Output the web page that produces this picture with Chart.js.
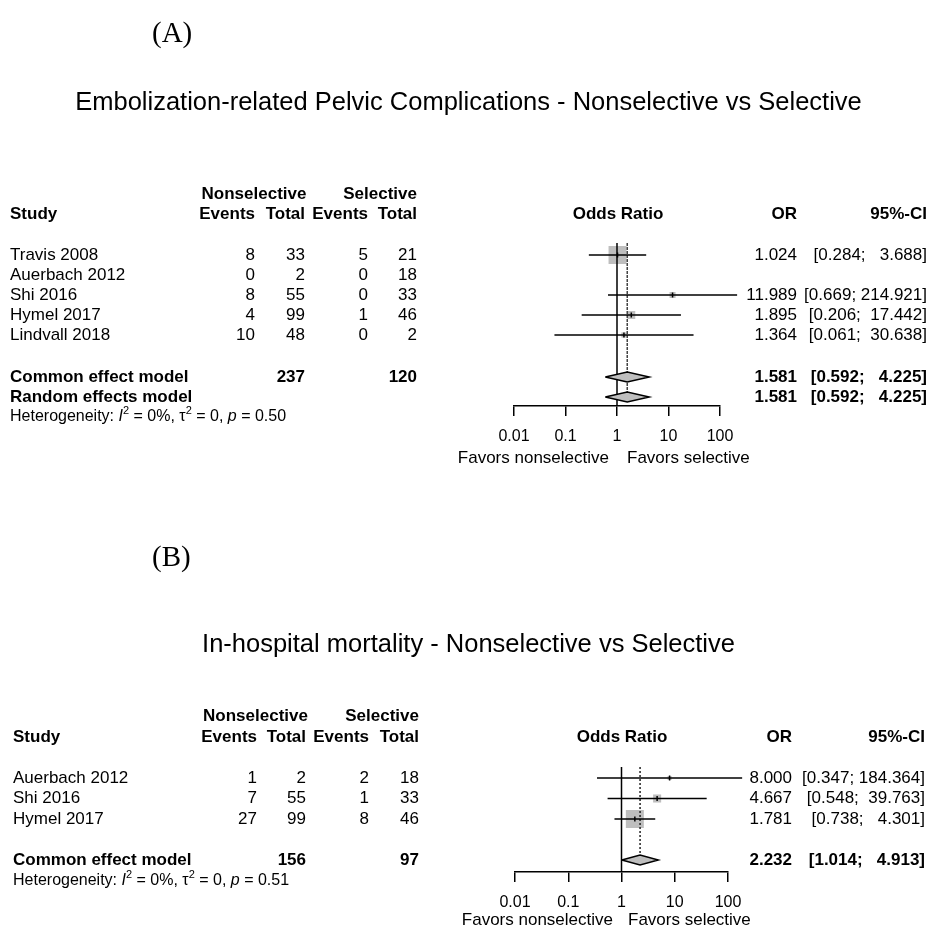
<!DOCTYPE html>
<html>
<head>
<meta charset="utf-8">
<script src="https://cdn.jsdelivr.net/npm/chart.js@4.4.0/dist/chart.umd.min.js"></script>
<style>
  body { margin: 0; background: #fff; }
  canvas { position: absolute; left: 0; }
</style>
</head>
<body>
<canvas id="panel-a" width="929" height="465" style="top:0"></canvas>
<canvas id="panel-b" width="929" height="464" style="top:465px"></canvas>
<script>
// (A) pelvic complications
const studiesA = ["Travis 2008", "Auerbach 2012", "Shi 2016", "Hymel 2017", "Lindvall 2018"];
const nsEventsA = [8, 0, 8, 4, 10];
const nsTotalA = [33, 2, 55, 99, 48];
const selEventsA = [5, 0, 0, 1, 0];
const selTotalA = [21, 18, 33, 46, 2];
const orA = [1.024, null, 11.989, 1.895, 1.364];
const lowerA = [0.284, null, 0.669, 0.206, 0.061];
const upperA = [3.688, null, 214.921, 17.442, 30.638];
const weightA = [72, 0, 8, 14, 6];
const summaryNamesA = ["Common effect model", "Random effects model"];
const summaryOrA = [1.581, 1.581];
const summaryLowerA = [0.592, 0.592];
const summaryUpperA = [4.225, 4.225];
const totalsA = [237, 120];
const hetA = ["0%", "0", "0.50"];

// (B) in-hospital mortality
const studiesB = ["Auerbach 2012", "Shi 2016", "Hymel 2017"];
const nsEventsB = [1, 7, 27];
const nsTotalB = [2, 55, 99];
const selEventsB = [2, 1, 8];
const selTotalB = [18, 33, 46];
const orB = [8.000, 4.667, 1.781];
const lowerB = [0.347, 0.548, 0.738];
const upperB = [184.364, 39.763, 4.301];
const weightB = [4, 16, 80];
const summaryNamesB = ["Common effect model"];
const summaryOrB = [2.232];
const summaryLowerB = [1.014];
const summaryUpperB = [4.913];
const totalsB = [156, 97];
const hetB = ["0%", "0", "0.51"];

const xTicks = [0.01, 0.1, 1, 10, 100];

const W = 929;
const AXIS_H = 40;
const MAX_SIDE = 18;
const LW = 1.5;
const SANS = '"Liberation Sans", Arial, sans-serif';
const SERIF = '"Liberation Serif", "Times New Roman", serif';

// layout, page coordinates
const layoutA = {
  top: 0, height: 465,
  areaLeft: 514, areaRight: 720, areaTop: 243, areaBottom: 406,
  row0: 255, rowH: 20, summaryRows: [6.1, 7.1], hetRow: 8.1,
  tag: "(A)", tagX: 152, tagY: 34,
  title: "Embolization-related Pelvic Complications - Nonselective vs Selective", titleY: 103,
  hdr1Y: 194, hdr2Y: 214,
  cStudy: 10, cE1: 255, cT1: 305, cE2: 368, cT2: 417, cPlot: 618, cOR: 797, cCI: 927,
  favorsY: 458, favorsL: 609, favorsR: 627, dash: [3, 1], refColor: "#444"
};
const layoutB = {
  top: 465, height: 464,
  areaLeft: 515, areaRight: 728, areaTop: 767, areaBottom: 872,
  row0: 778, rowH: 20.5, summaryRows: [4], hetRow: 5,
  tag: "(B)", tagX: 152, tagY: 558,
  title: "In-hospital mortality - Nonselective vs Selective", titleY: 645,
  hdr1Y: 716, hdr2Y: 737,
  cStudy: 13, cE1: 257, cT1: 306, cE2: 369, cT2: 419, cPlot: 622, cOR: 792, cCI: 925,
  favorsY: 920, favorsL: 613, favorsR: 628, dash: [2, 2], refColor: "#222"
};

function fmtCI(lo, hi) {
  return "[" + lo.toFixed(3) + "; " + hi.toFixed(3).padStart(7) + "]";
}

function put(ctx, s, x, y, align, font) {
  ctx.font = font;
  ctx.textAlign = align;
  ctx.textBaseline = "middle";
  ctx.fillStyle = "#000";
  ctx.fillText(s, x, y);
}

function buildPanel(id, P, D) {
  const yMin = (P.areaTop - P.row0) / P.rowH;
  const yMax = (P.areaBottom - P.row0) / P.rowH;
  const dh = 5 / P.rowH;
  const maxW = Math.max(...D.weight);
  const datasets = [];

  // squares
  const sq = [], sqR = [], est = [];
  D.or.forEach((v, i) => {
    if (v == null) return;
    sq.push({ x: v, y: i });
    sqR.push((MAX_SIDE * Math.sqrt(D.weight[i] / maxW)) / 2 / Math.SQRT1_2);
    est.push({ x: v, y: i });
  });
  datasets.push({
    type: "scatter", data: sq, order: 3, pointStyle: "rect",
    pointRadius: sqR, backgroundColor: "#bebebe", borderWidth: 0, clip: false
  });

  // confidence intervals
  D.or.forEach((v, i) => {
    if (v == null) return;
    datasets.push({
      type: "line", data: [{ x: D.lower[i], y: i }, { x: D.upper[i], y: i }],
      order: 2, borderColor: "#000", borderWidth: LW, pointRadius: 0, clip: false
    });
  });
  datasets.push({
    type: "scatter", data: est, order: 1, pointStyle: "line", rotation: 90,
    pointRadius: 2.5, borderColor: "#000", borderWidth: LW, clip: false
  });

  // reference lines
  datasets.push({
    type: "line", data: [{ x: 1, y: yMin }, { x: 1, y: yMax }],
    order: 2, borderColor: "#000", borderWidth: LW, pointRadius: 0, clip: false
  });
  const lastSum = P.summaryRows[P.summaryRows.length - 1];
  datasets.push({
    type: "line", data: [{ x: D.sumOr[0], y: yMin }, { x: D.sumOr[0], y: lastSum }],
    order: 2, borderColor: P.refColor, borderWidth: LW, borderDash: P.dash, pointRadius: 0, clip: false
  });

  // diamonds
  D.sumOr.forEach((v, k) => {
    const r = P.summaryRows[k];
    datasets.push({
      type: "line", order: 0,
      data: [
        { x: D.sumLower[k], y: r }, { x: v, y: r - dh },
        { x: D.sumUpper[k], y: r }, { x: v, y: r + dh }, { x: D.sumLower[k], y: r }
      ],
      fill: "shape", backgroundColor: "#bebebe", borderColor: "#000",
      borderWidth: LW, pointRadius: 0, tension: 0, clip: false
    });
  });

  const tablePlugin = {
    id: "table" + id,
    afterDraw(chart) {
      const ctx = chart.ctx;
      const ys = chart.scales.y;
      const ry = (r) => ys.getPixelForValue(r);
      const t = P.top;
      const f = (px, w) => (w || "") + " " + px + "px " + SANS;
      ctx.save();
      put(ctx, P.tag, P.tagX, P.tagY - t, "left", "29px " + SERIF);
      put(ctx, P.title, W / 2 + 4, P.titleY - t, "center", f(25.5));

      const hb = f(17, "bold");
      put(ctx, "Nonselective", (P.cE1 - 52 + P.cT1) / 2, P.hdr1Y - t, "center", hb);
      put(ctx, "Selective", P.cT2, P.hdr1Y - t, "right", hb);
      put(ctx, "Study", P.cStudy, P.hdr2Y - t, "left", hb);
      put(ctx, "Events", P.cE1, P.hdr2Y - t, "right", hb);
      put(ctx, "Total", P.cT1, P.hdr2Y - t, "right", hb);
      put(ctx, "Events", P.cE2, P.hdr2Y - t, "right", hb);
      put(ctx, "Total", P.cT2, P.hdr2Y - t, "right", hb);
      put(ctx, "Odds Ratio", P.cPlot, P.hdr2Y - t, "center", hb);
      put(ctx, "OR", P.cOR, P.hdr2Y - t, "right", hb);
      put(ctx, "95%-CI", P.cCI, P.hdr2Y - t, "right", hb);

      const nf = f(17);
      D.studies.forEach((s, i) => {
        const y = ry(i);
        put(ctx, s, P.cStudy, y, "left", nf);
        put(ctx, String(D.nsE[i]), P.cE1, y, "right", nf);
        put(ctx, String(D.nsT[i]), P.cT1, y, "right", nf);
        put(ctx, String(D.selE[i]), P.cE2, y, "right", nf);
        put(ctx, String(D.selT[i]), P.cT2, y, "right", nf);
        if (D.or[i] != null) {
          put(ctx, D.or[i].toFixed(3), P.cOR, y, "right", nf);
          put(ctx, fmtCI(D.lower[i], D.upper[i]), P.cCI, y, "right", nf);
        }
      });

      D.sumNames.forEach((s, k) => {
        const y = ry(P.summaryRows[k]);
        put(ctx, s, P.cStudy, y, "left", hb);
        if (k === 0) {
          put(ctx, String(D.totals[0]), P.cT1, y, "right", hb);
          put(ctx, String(D.totals[1]), P.cT2, y, "right", hb);
        }
        put(ctx, D.sumOr[k].toFixed(3), P.cOR, y, "right", hb);
        put(ctx, fmtCI(D.sumLower[k], D.sumUpper[k]), P.cCI, y, "right", hb);
      });

      // heterogeneity line
      const hy = ry(P.hetRow);
      const seg = [
        ["Heterogeneity: ", f(16)], ["I", f(16, "italic")], ["2", f(11), -6],
        [" = " + D.het[0] + ", \u03c4", f(16)], ["2", f(11), -6],
        [" = " + D.het[1] + ", ", f(16)], ["p", f(16, "italic")], [" = " + D.het[2], f(16)]
      ];
      let x = P.cStudy;
      seg.forEach(([s, font, dy]) => {
        put(ctx, s, x, hy + (dy || 0), "left", font);
        x += ctx.measureText(s).width;
      });

      put(ctx, "Favors nonselective", P.favorsL, P.favorsY - t, "right", f(17));
      put(ctx, "Favors selective", P.favorsR, P.favorsY - t, "left", f(17));
      ctx.restore();
    }
  };

  new Chart(document.getElementById(id), {
    type: "scatter",
    data: { datasets: datasets },
    options: {
      responsive: false,
      animation: false,
      events: [],
      layout: {
        padding: {
          left: P.areaLeft,
          right: W - P.areaRight,
          top: P.areaTop - P.top,
          bottom: P.height - (P.areaBottom - P.top) - AXIS_H
        }
      },
      plugins: { legend: { display: false }, tooltip: { enabled: false } },
      scales: {
        x: {
          type: "logarithmic",
          min: 0.01,
          max: 100,
          afterBuildTicks: (s) => { s.ticks = xTicks.map((v) => ({ value: v })); },
          afterFit: (s) => { s.height = AXIS_H; },
          ticks: {
            callback: (v) => String(v),
            color: "#000",
            font: { family: SANS, size: 16 },
            padding: 11,
            maxRotation: 0,
            autoSkip: false
          },
          grid: { drawOnChartArea: false, color: "#000", tickLength: 10, lineWidth: LW },
          border: { color: "#000", width: LW }
        },
        y: { type: "linear", display: false, reverse: true, min: yMin, max: yMax }
      }
    },
    plugins: [tablePlugin]
  });
}

buildPanel("panel-a", layoutA, {
  studies: studiesA, nsE: nsEventsA, nsT: nsTotalA, selE: selEventsA, selT: selTotalA,
  or: orA, lower: lowerA, upper: upperA, weight: weightA,
  sumNames: summaryNamesA, sumOr: summaryOrA, sumLower: summaryLowerA, sumUpper: summaryUpperA,
  totals: totalsA, het: hetA
});
buildPanel("panel-b", layoutB, {
  studies: studiesB, nsE: nsEventsB, nsT: nsTotalB, selE: selEventsB, selT: selTotalB,
  or: orB, lower: lowerB, upper: upperB, weight: weightB,
  sumNames: summaryNamesB, sumOr: summaryOrB, sumLower: summaryLowerB, sumUpper: summaryUpperB,
  totals: totalsB, het: hetB
});
</script>
</body>
</html>
